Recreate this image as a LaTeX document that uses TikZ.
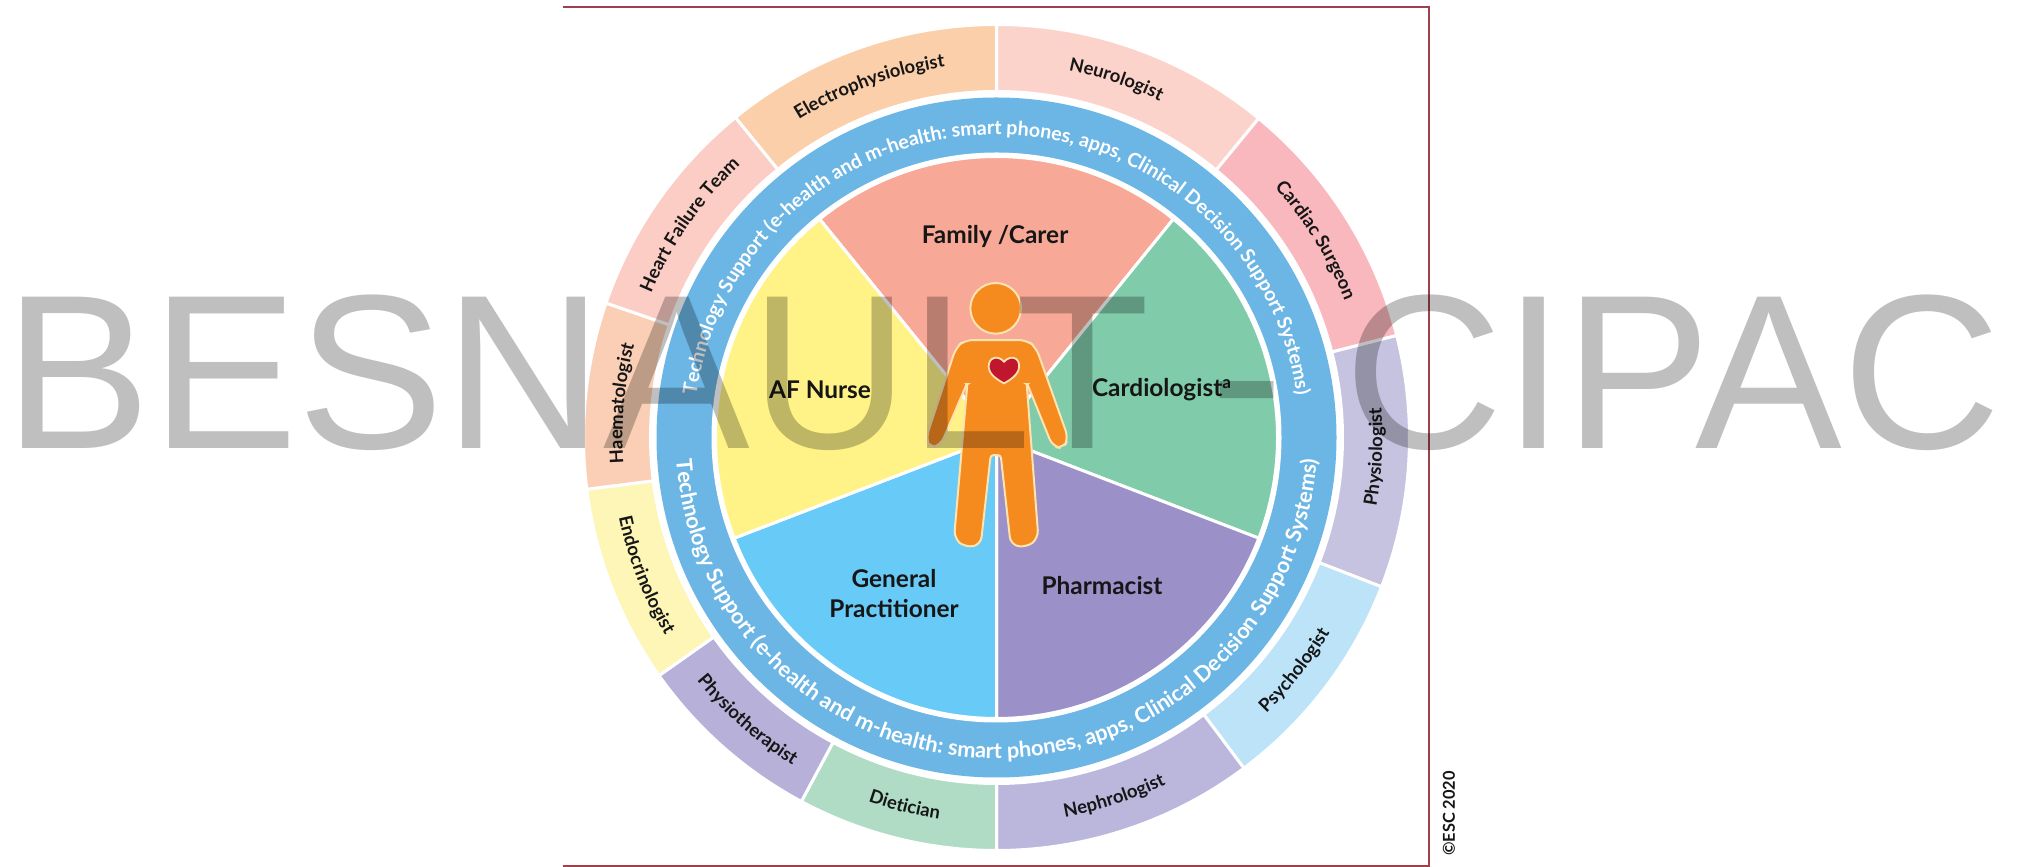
\documentclass[tikz,border=0pt]{standalone}
\usepackage{fontspec}
\setmainfont{Lato}
\usetikzlibrary{decorations.text}
\definecolor{cNeuro}{HTML}{FBD3CA}\definecolor{cCardS}{HTML}{F9B8BE}\definecolor{cPhysl}{HTML}{C6C3E0}
\definecolor{cPsych}{HTML}{BCE3F8}\definecolor{cNeph}{HTML}{BAB6DC}\definecolor{cDiet}{HTML}{B0DCC6}
\definecolor{cPhyst}{HTML}{B7B1DA}\definecolor{cEndo}{HTML}{FDF6B6}\definecolor{cHaem}{HTML}{FBCFB5}
\definecolor{cHeartT}{HTML}{FBCDC4}\definecolor{cElec}{HTML}{FBCFA9}
\definecolor{cRing}{HTML}{6CB6E6}\definecolor{cFam}{HTML}{F8A896}\definecolor{cCard}{HTML}{7FCBAA}
\definecolor{cPharm}{HTML}{9B90C8}\definecolor{cGP}{HTML}{68CAF7}\definecolor{cAF}{HTML}{FFF387}
\definecolor{cBody}{HTML}{F58A1F}\definecolor{cEdge}{HTML}{FDE3B0}\definecolor{cHeart}{HTML}{C0172F}
\definecolor{cFrame}{HTML}{A0404C}\definecolor{cInk}{HTML}{161616}
\newcommand{\ringfonttop}{\fontsize{9.8}{11}\selectfont\bfseries}
\newcommand{\ringfontbot}{\fontsize{10.9}{12}\selectfont\bfseries}
\newcommand{\outerfont}{\fontsize{9.2}{10}\selectfont\bfseries}
\tikzset{
  sectorline/.style={draw=white,line width=1.5pt,line join=round},
  piecelabel/.style={font=\fontsize{12.2}{15}\selectfont\bfseries,text=cInk,align=center,inner sep=0pt},
}
\newcommand{\ringseg}[5]{\path[fill=#3,sectorline] (#1:#4) arc[start angle=#1,end angle=#2,radius=#4] -- (#2:#5) arc[start angle=#2,end angle=#1,radius=#5] -- cycle;}
\newcommand{\piesec}[3]{\path[fill=#3,sectorline] (0,0) -- (#1:281) arc[start angle=#1,end angle=#2,radius=281] -- cycle;}
\newcommand{\cwtext}[2]{\path[decorate,decoration={text along path,text align=center,text color=cInk,text={|\outerfont|#2}}] (#1+45:\cwr) arc[start angle=#1+45,end angle=#1-45,radius=\cwr];}
\newcommand{\ccwtext}[2]{\path[decorate,decoration={text along path,text align=center,text color=cInk,text={|\outerfont|#2}}] (#1-45:\ccwr) arc[start angle=#1-45,end angle=#1+45,radius=\ccwr];}
\begin{document}
\begin{tikzpicture}[x=0.5pt,y=0.5pt]
\useasboundingbox (0,0) rectangle (2020,867);
\fill[white] (0,0) rectangle (2020,867);
\draw[cFrame,line width=1pt] (563,1) -- (1429,1) -- (1429,860) -- (563,860);
\begin{scope}[shift={(996.5,429.5)}]
  \ringseg{50.6}{90}{cNeuro}{346}{413}
  \ringseg{14.3}{50.6}{cCardS}{346}{413}
  \ringseg{-21.2}{14.3}{cPhysl}{346}{413}
  \ringseg{-53.2}{-21.2}{cPsych}{346}{413}
  \ringseg{-90}{-53.2}{cNeph}{346}{413}
  \ringseg{241.8}{270}{cDiet}{346}{413}
  \ringseg{215.2}{241.8}{cPhyst}{346}{413}
  \ringseg{187.2}{215.2}{cEndo}{346}{413}
  \ringseg{161}{187.2}{cHaem}{346}{413}
  \ringseg{129.2}{161}{cHeartT}{346}{413}
  \ringseg{90}{129.2}{cElec}{346}{413}
  \fill[cRing] (0,0) circle[radius=340];
  \fill[white] (0,0) circle[radius=285];
  \piesec{51}{129}{cFam}
  \piesec{-21}{51}{cCard}
  \piesec{-90}{-21}{cPharm}
  \piesec{201}{270}{cGP}
  \piesec{129}{201}{cAF}
  \def\cwr{303}\def\ccwr{321}
  \path[decorate,decoration={text along path,text align=center,text color=white,text={|\ringfonttop|Technology Support (e-health and m-health: smart phones, apps, Clinical Decision Support Systems)}}] (178:\cwr) arc[start angle=178,end angle=2,radius=\cwr];
  \path[decorate,decoration={text along path,text align=center,text color=white,text={|\ringfontbot|Technology Support (e-health and m-health: smart phones, apps, Clinical Decision Support Systems)}}] (178:\ccwr) arc[start angle=178,end angle=362,radius=\ccwr];
  \def\cwr{374}\def\ccwr{386}
  \cwtext{71.5}{Neurologist}
  \cwtext{31.7}{Cardiac Surgeon}
  \cwtext{109.9}{Electrophysiologist}
  \cwtext{145.3}{Heart Failure Team}
  \cwtext{174.8}{Haematologist}
  \ccwtext{-2.9}{Physiologist}
  \ccwtext{-38}{Psychologist}
  \ccwtext{-71.9}{Nephrologist}
  \ccwtext{-104}{Dietician}
  \ccwtext{-131.4}{Physiotherapist}
  \ccwtext{-158.6}{Endocrinologist}
\end{scope}
\node[piecelabel] (family) at (995,631) {Family /Carer};
\node[piecelabel] (afnurse) at (820,477) {AF Nurse};
\node[piecelabel] (cardio) at (1162,477) {Cardiologist\textsuperscript{a}};
\node[piecelabel] (gp) at (894,273.5) {General\\Practitioner};
\node[piecelabel] (pharm) at (1102,281) {Pharmacist};
\begin{scope}[shift={(850,607)},x=0.1667pt,y=-0.1667pt]
  \path[fill=cBody,draw=cEdge,line width=1pt] (437,145) circle[radius=76];
  \path[fill=cBody,draw=cEdge,line width=1pt,rounded corners=4pt]
    (345,240) -- (530,240) -- (558,262) -- (655,535) -- (640,565) -- (608,560)
    [rounded corners=0.5pt] -- (532,372) -- (530,372)
    [rounded corners=4pt] -- (565,835) -- (530,862) -- (482,855)
    [rounded corners=1.5pt] -- (452,585) -- (422,585)
    [rounded corners=4pt] -- (392,855) -- (345,862) -- (312,835)
    [rounded corners=0.5pt] -- (352,372) -- (350,372)
    [rounded corners=4pt] -- (272,555) -- (240,565) -- (228,535) -- (318,262) -- cycle;
  \path[fill=cHeart,draw=cEdge,line width=0.9pt] (462,305)
    .. controls (480,285) and (510,290) .. (507,322)
    .. controls (505,345) and (480,360) .. (462,370)
    .. controls (444,360) and (418,345) .. (416,322)
    .. controls (414,290) and (445,285) .. (462,305) -- cycle;
\end{scope}
\node[font=\fontsize{8.2}{9}\selectfont\bfseries,text=cInk,rotate=90,inner sep=0pt] (esc) at (1449,53.5) {©ESC 2020};
\node[font={\fontsize{110}{120}\selectfont\fontspec{Liberation Sans}},text=black,text opacity=0.25,inner sep=0pt,anchor=base west] (mark) at (4,418) {BESNAULT - CIPAC};
\end{tikzpicture}
\end{document}
